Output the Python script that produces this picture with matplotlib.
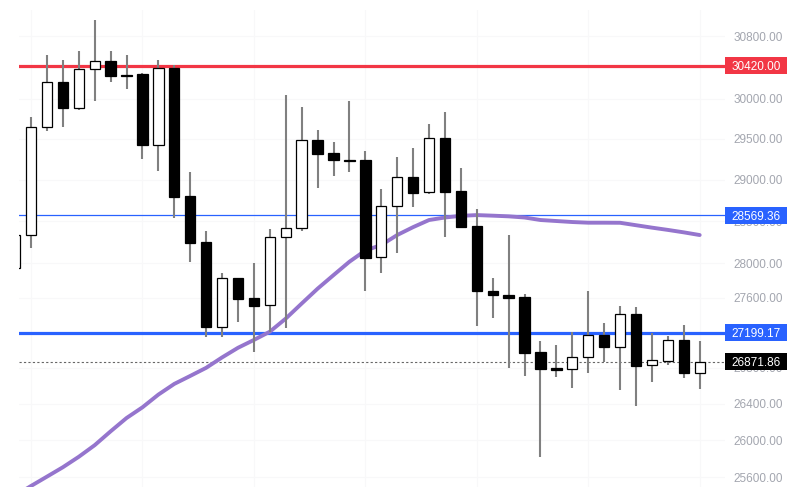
import numpy as np
import matplotlib
matplotlib.use("Agg")
import matplotlib.pyplot as plt
from matplotlib.patches import Rectangle
from matplotlib.ticker import FixedLocator, NullLocator, FuncFormatter
from matplotlib.transforms import IdentityTransform

# ---------------- data ----------------
opens = [27947, 28336, 29648, 30213, 29885, 30378, 30480, 30302, 30314, 29426,
         30391, 28803, 28253, 27264, 27830, 27598, 27517, 28313, 28420, 29487,
         29327, 29241, 29241, 28076, 28683, 29034, 28852, 29512, 28864, 28443,
         27679, 27638, 27606, 26977, 26800, 26786, 26921, 27170, 27040, 27410,
         26830, 26882, 27113, 26747]
highs = [28336, 29773, 30557, 30493, 30608, 31008, 30608, 30557, 30327, 30493,
         30429, 29094, 28384, 27889, 27830, 28006, 28408, 30049, 29898, 29611,
         29463, 29973, 29352, 28888, 29278, 29389, 29686, 29835, 29143, 28647,
         27830, 28336, 27644, 27105, 27060, 27207, 27679, 27310, 27506, 27494,
         27196, 27162, 27287, 27105]
lows = [27947, 28182, 29599, 29648, 29860, 29973, 30213, 30124, 29253, 29107,
        28539, 28017, 27150, 27150, 27322, 26980, 27207, 27253, 28384, 28900,
        29046, 29094, 27679, 27889, 28123, 28671, 28827, 28313, 28420, 27276,
        27368, 26800, 26710, 25819, 26699, 26576, 26744, 26867, 26554, 26377,
        26643, 26834, 26685, 26562]
closes = [28336, 29648, 30213, 29885, 30378, 30480, 30289, 30289, 29426, 30391,
          28791, 28242, 27264, 27830, 27586, 27506, 28313, 28420, 29487, 29315,
          29241, 29232, 28065, 28683, 29034, 28840, 29512, 28852, 28432, 27679,
          27638, 27601, 26972, 26792, 26781, 26921, 27170, 27040, 27410, 26826,
          26887, 27113, 26747, 26871.86]
ma_values = [25404, 25507, 25607, 25708, 25821, 25947, 26098, 26244, 26362, 26503,
             26622, 26711, 26802, 26919, 27028, 27117, 27211, 27361, 27534, 27706,
             27864, 28021, 28153, 28218, 28336, 28430, 28515, 28545, 28565, 28574,
             28567, 28559, 28545, 28515, 28503, 28491, 28483, 28483, 28482, 28453,
             28424, 28397, 28368, 28336]

resistance_level = 30420.00
ma_level = 28569.36
support_level = 27199.17
last_price = 26871.86

y_ticks = [30800, 30400, 30000, 29500, 29000, 28500, 28000, 27600, 27200,
           26800, 26400, 26000, 25600]

# ---------------- figure ----------------
W, H = 800, 494
fig = plt.figure(figsize=(W / 100, H / 100), dpi=100)
fig.patch.set_facecolor("white")
ax = fig.add_axes([19 / W, 7 / H, (725 - 19) / W, (487 - 10) / H])
ax.set_facecolor("white")

n = len(opens)
idx = np.arange(n)
o = np.array(opens, float)
h = np.array(highs, float)
l = np.array(lows, float)
c = np.array(closes, float)
up = c >= o

ax.set_yscale("log")
ax.set_ylim(25496, 31139)
ax.set_xlim(0.245, 44.59)

# grid
ax.yaxis.set_major_locator(FixedLocator(y_ticks))
ax.yaxis.set_minor_locator(NullLocator())
ax.yaxis.set_major_formatter(FuncFormatter(lambda v, p: f"{v:.2f}"))
ax.xaxis.set_major_locator(FixedLocator(np.arange(1, n, 7)))
ax.xaxis.set_minor_locator(NullLocator())
ax.set_xticklabels([])
ax.grid(True, color="#f8f8f9", linewidth=0.8, zorder=0)
ax.set_axisbelow(True)
ax.tick_params(axis="x", length=0)
ax.yaxis.tick_right()
ax.tick_params(axis="y", length=0, pad=5.8, labelsize=8.5, labelcolor="#a3a6af")
for lab in ax.get_yticklabels():
    lab.set_fontfamily("Liberation Sans")
for s in ax.spines.values():
    s.set_visible(False)

# horizontal levels
ax.axhline(resistance_level, color="#F23645", lw=2.3, zorder=1)
ax.axhline(ma_level, color="#2962FF", lw=0.9, zorder=1)
ax.axhline(support_level, color="#2962FF", lw=2.3, zorder=1)
ax.axhline(last_price, color="#666666", lw=0.8, ls=(0, (2, 2)), zorder=1)

# moving average
ax.plot(idx, ma_values, color="#9575CD", lw=2.8, solid_capstyle="round", zorder=2)

# candles
body_w = 0.65
ax.vlines(idx, l, h, color="#808080", lw=1.5, zorder=3)
bottoms = np.minimum(o, c)
heights = np.abs(c - o)
ax.bar(idx[up], heights[up], bottom=bottoms[up], width=body_w,
       color="white", edgecolor="black", linewidth=0.9, zorder=4)
ax.bar(idx[~up], heights[~up], bottom=bottoms[~up], width=body_w,
       color="black", edgecolor="black", linewidth=0.9, zorder=4)

# price label boxes on the right (cover the axis labels underneath, as in the reference)
def price_box(price, color):
    yd = ax.transData.transform((1, price))[1]
    rect = Rectangle((725, yd - 8.5), 62, 17, transform=IdentityTransform(),
                     facecolor=color, edgecolor="none", zorder=10)
    fig.add_artist(rect)
    fig.text(756 / W, yd / H, f"{price:.2f}", color="white", fontsize=8.5,
             family="Liberation Sans", ha="center", va="center_baseline",
             zorder=11)

price_box(resistance_level, "#F23645")
price_box(ma_level, "#2962FF")
price_box(support_level, "#2962FF")
price_box(last_price, "#000000")

fig.savefig("out.png", dpi=100, facecolor="white")
